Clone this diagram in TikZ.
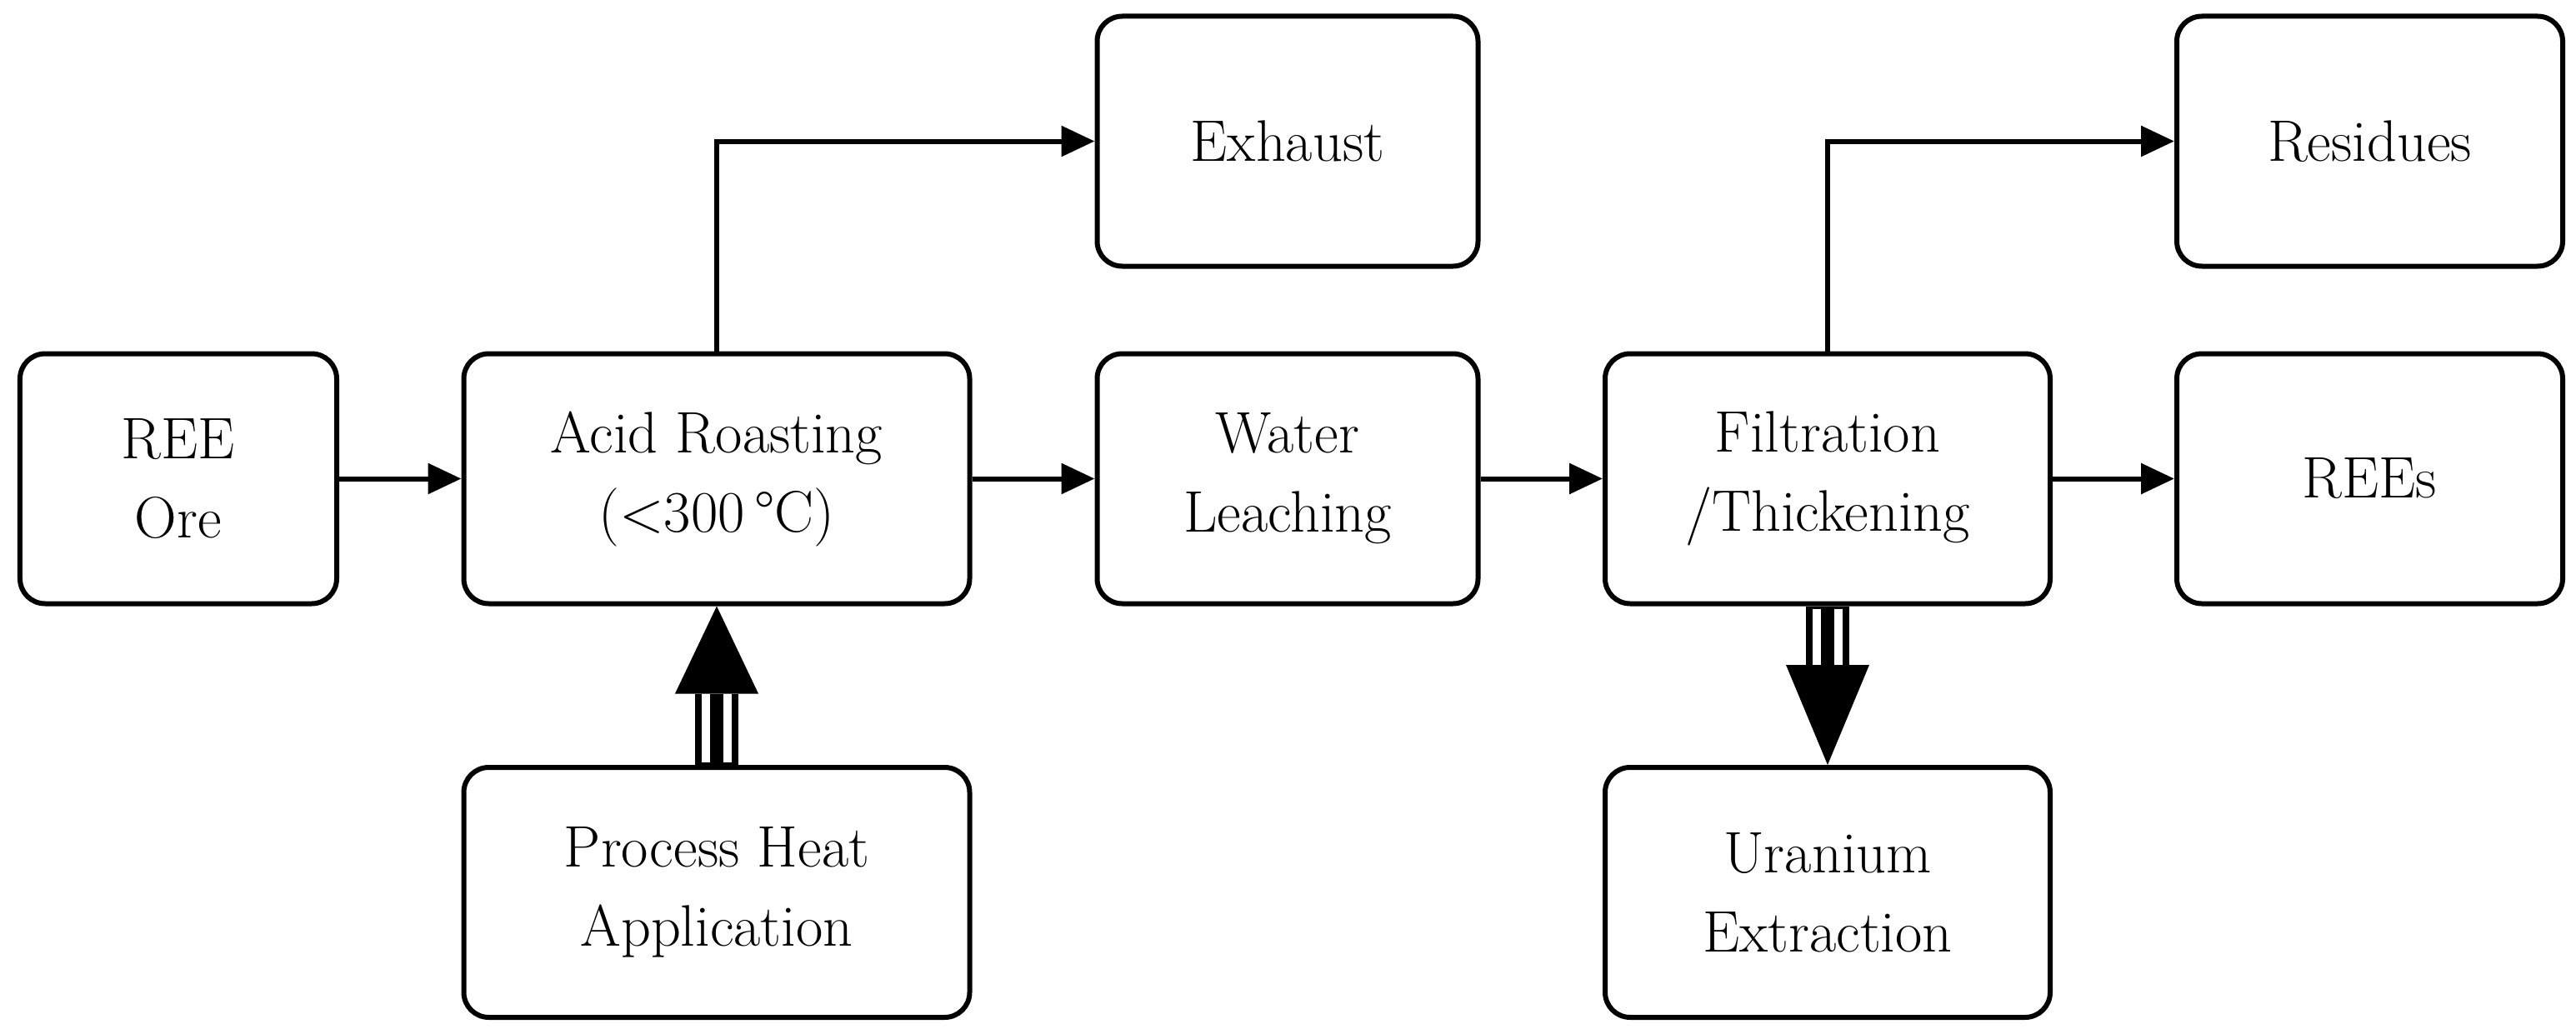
\documentclass[tikz,border=0pt]{standalone}
\usetikzlibrary{arrows.meta,positioning}
\tikzstyle{stage}=[draw=black, rounded corners=0.3cm, line width=0.6mm, minimum height=3.0cm, align=center, font=\fontsize{20}{27}\selectfont]
\tikzstyle{flow}=[line width=0.6mm, -{Triangle[length=0.4cm,width=0.36cm]}]
\tikzstyle{shaftout}=[line width=0.52cm]
\tikzstyle{shaftgap}=[line width=0.36cm, white]
\tikzstyle{shaftmid}=[line width=0.16cm]

\begin{document}
\begin{tikzpicture}
            \useasboundingbox (0,0) rectangle (30.91,12.4);
            \node[stage, minimum width=3.8cm] (ore) at (2.14,6.655) {REE\\Ore};
            \node[stage, minimum width=6.07cm] (roast) at (8.6,6.655) {Acid Roasting\\(<300\,°C)};
            \node[stage, minimum width=4.57cm] (exhaust) at (15.45,10.705) {Exhaust};
            \node[stage, minimum width=4.57cm] (leach) at (15.45,6.655) {Water\\Leaching};
            \node[stage, minimum width=5.34cm] (filter) at (21.93,6.655) {Filtration\\/Thickening};
            \node[stage, minimum width=4.63cm] (residues) at (28.435,10.705) {Residues};
            \node[stage, minimum width=4.63cm] (rees) at (28.435,6.655) {REEs};
            \node[stage, minimum width=6.07cm] (heat) at (8.6,1.69) {Process Heat\\Application};
            \node[stage, minimum width=5.34cm] (uranium) at (21.93,1.69) {Uranium\\Extraction};
            \draw[flow] (ore) -- (roast);
            \draw[flow] (roast) -- (leach);
            \draw[flow] (leach) -- (filter);
            \draw[flow] (filter) -- (rees);
            \draw[flow] (roast.north) |- (exhaust.west);
            \draw[flow] (filter.north) |- (residues.west);
            % heat supply
            \coordinate (hb) at ([yshift=-1.05cm]roast.south);
            \draw[shaftout] (heat.north) -- (hb);
            \draw[shaftgap] ([yshift=0.03cm]heat.north) -- (hb);
            \draw[shaftmid] (heat.north) -- (hb);
            \fill ([xshift=-0.5cm]hb) -- (roast.south) -- ([xshift=0.5cm]hb) -- cycle;
            % uranium stream
            \coordinate (ub) at ([yshift=1.2cm]uranium.north);
            \draw[shaftout] (filter.south) -- (ub);
            \draw[shaftgap] ([yshift=-0.03cm]filter.south) -- (ub);
            \draw[shaftmid] (filter.south) -- (ub);
            \fill ([xshift=-0.5cm]ub) -- (uranium.north) -- ([xshift=0.5cm]ub) -- cycle;
	    \end{tikzpicture}
\end{document}
